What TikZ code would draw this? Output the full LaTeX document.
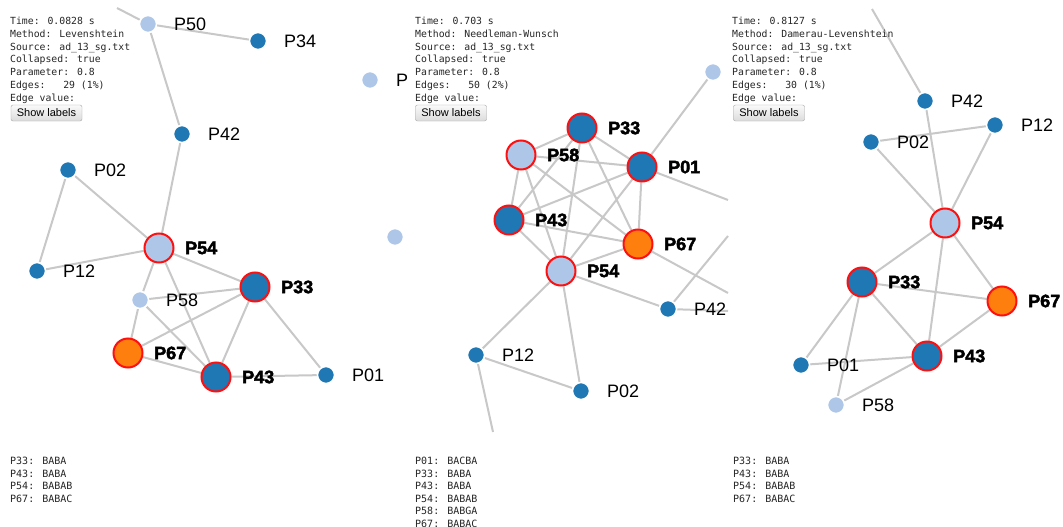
\documentclass[tikz,border=0pt]{standalone}
\usepackage{fontspec}
\usepackage{tikz}
\usetikzlibrary{positioning,backgrounds}
\setmainfont{Liberation Sans}
\newfontfamily\labelfont{Liberation Sans}[BoldFeatures={FakeBold=2.5}]
\newfontfamily\monofont{DejaVu Sans Mono}
\definecolor{dkblue}{HTML}{1F77B4}
\definecolor{ltblue}{HTML}{AEC7E8}
\definecolor{orng}{HTML}{FF7F0E}
\definecolor{linkgray}{HTML}{C8C8C8}
\definecolor{hilite}{HTML}{FF1010}

\begin{document}
\begin{tikzpicture}[x=1pt,y=-1pt,
  link/.style={linkgray, line width=2pt},
  sdot/.style={circle, draw=white, line width=1.5pt, minimum size=17pt, inner sep=0pt},
  bdot/.style={circle, draw=hilite, line width=2pt, minimum size=29pt, inner sep=0pt},
  plab/.style={font=\labelfont\fontsize{18}{20}\selectfont, inner sep=0pt, anchor=west},
  pbold/.style={plab, font=\labelfont\bfseries\fontsize{18}{20}\selectfont},
  info/.style={font=\monofont\fontsize{9.8}{12.77}\selectfont, align=left, anchor=north west, inner sep=0pt, text=black!85},
  btn/.style={draw=black!35, rounded corners=2pt, top color=black!2, bottom color=black!14,
    minimum width=71pt, minimum height=16pt, inner sep=0pt, font=\fontsize{11}{12}\selectfont}]
\useasboundingbox (0,0) rectangle (1063,527);
%
% Levenshtein
\node[info] (lInfo) at (10,17) {Time: 0.0828 s\\Method: Levenshtein\\Source: ad\_13\_sg.txt\\Collapsed: true\\Parameter: 0.8\\Edges:\ \ \ 29 (1\%)\\Edge value:};
\node[btn] (lBtn) at (46.5,113) {Show labels};
\node[sdot, fill=ltblue] (lP50) at (148,24) {};
\node[sdot, fill=dkblue] (lP34) at (258,41) {};
\node[sdot, fill=ltblue] (lPx) at (370,80) {};
\node[sdot, fill=dkblue] (lP42) at (182,134) {};
\node[sdot, fill=dkblue] (lP02) at (68,170) {};
\node[sdot, fill=dkblue] (lP12) at (37,271) {};
\node[bdot, fill=ltblue] (lP54) at (159,248) {};
\node[sdot, fill=ltblue] (lP58) at (140,300) {};
\node[bdot, fill=dkblue] (lP33) at (255,287) {};
\node[bdot, fill=orng] (lP67) at (128,353) {};
\node[bdot, fill=dkblue] (lP43) at (216,377) {};
\node[sdot, fill=dkblue] (lP01) at (326,375) {};
\coordinate (lTop) at (117,8);
\node[plab, right=26pt of lP50.center] (lP50t) {P50};
\node[plab, right=26pt of lP34.center] (lP34t) {P34};
\node[plab, right=26pt of lPx.center] (lPxt) {P};
\node[plab, right=26pt of lP42.center] (lP42t) {P42};
\node[plab, right=26pt of lP02.center] (lP02t) {P02};
\node[plab, right=26pt of lP12.center] (lP12t) {P12};
\node[pbold, right=26pt of lP54.center] (lP54t) {P54};
\node[plab, right=26pt of lP58.center] (lP58t) {P58};
\node[pbold, right=26pt of lP33.center] (lP33t) {P33};
\node[pbold, right=26pt of lP67.center] (lP67t) {P67};
\node[pbold, right=26pt of lP43.center] (lP43t) {P43};
\node[plab, right=26pt of lP01.center] (lP01t) {P01};
\node[info, font=\monofont\fontsize{10}{12.5}\selectfont] (lSeq) at (10,457) {P33: BABA\\P43: BABA\\P54: BABAB\\P67: BABAC};
%
% Needleman-Wunsch
\node[info] (mInfo) at (415,17) {Time: 0.703 s\\Method: Needleman-Wunsch\\Source: ad\_13\_sg.txt\\Collapsed: true\\Parameter: 0.8\\Edges:\ \ \ 50 (2\%)\\Edge value:};
\node[btn] (mBtn) at (451,113) {Show labels};
\node[bdot, fill=dkblue] (mP33) at (582,128) {};
\node[bdot, fill=ltblue] (mP58) at (521,155) {};
\node[bdot, fill=dkblue] (mP01) at (642,167) {};
\node[bdot, fill=dkblue] (mP43) at (509,220) {};
\node[bdot, fill=orng] (mP67) at (638,244) {};
\node[bdot, fill=ltblue] (mP54) at (561,271) {};
\node[sdot, fill=dkblue] (mP42) at (668,309) {};
\node[sdot, fill=dkblue] (mP12) at (476,355) {};
\node[sdot, fill=dkblue] (mP02) at (581,391) {};
\node[sdot, fill=ltblue] (mPa) at (713,72) {};
\node[sdot, fill=ltblue] (mPb) at (395,237) {};
\coordinate (mOutA) at (728,200);
\coordinate (mOutB) at (728,293);
\coordinate (mOutC) at (728,236);
\coordinate (mOutD) at (728,311);
\coordinate (mOutE) at (493,432);
\node[pbold, right=26pt of mP33.center] (mP33t) {P33};
\node[pbold, right=26pt of mP58.center] (mP58t) {P58};
\node[pbold, right=26pt of mP01.center] (mP01t) {P01};
\node[pbold, right=26pt of mP43.center] (mP43t) {P43};
\node[pbold, right=26pt of mP67.center] (mP67t) {P67};
\node[pbold, right=26pt of mP54.center] (mP54t) {P54};
\node[plab, right=26pt of mP42.center] (mP42t) {P42};
\node[plab, right=26pt of mP12.center] (mP12t) {P12};
\node[plab, right=26pt of mP02.center] (mP02t) {P02};
\node[info, font=\monofont\fontsize{10}{12.5}\selectfont] (mSeq) at (415,457) {P01: BACBA\\P33: BABA\\P43: BABA\\P54: BABAB\\P58: BABGA\\P67: BABAC};
%
% Damerau-Levenshtein
\node[info] (rInfo) at (732,17) {Time: 0.8127 s\\Method: Damerau-Levenshtein\\Source: ad\_13\_sg.txt\\Collapsed: true\\Parameter: 0.8\\Edges:\ \ \ 30 (1\%)\\Edge value:};
\node[btn] (rBtn) at (769,113) {Show labels};
\node[sdot, fill=dkblue] (rP42) at (925,101) {};
\node[sdot, fill=dkblue] (rP12) at (995,125) {};
\node[sdot, fill=dkblue] (rP02) at (871,142) {};
\node[bdot, fill=ltblue] (rP54) at (945,223) {};
\node[bdot, fill=dkblue] (rP33) at (862,282) {};
\node[bdot, fill=orng] (rP67) at (1002,301) {};
\node[bdot, fill=dkblue] (rP43) at (927,356) {};
\node[sdot, fill=dkblue] (rP01) at (801,365) {};
\node[sdot, fill=ltblue] (rP58) at (836,405) {};
\coordinate (rTop) at (872,9);
\node[plab, right=26pt of rP42.center] (rP42t) {P42};
\node[plab, right=26pt of rP12.center] (rP12t) {P12};
\node[plab, right=26pt of rP02.center] (rP02t) {P02};
\node[pbold, right=26pt of rP54.center] (rP54t) {P54};
\node[pbold, right=26pt of rP33.center] (rP33t) {P33};
\node[pbold, right=26pt of rP67.center] (rP67t) {P67};
\node[pbold, right=26pt of rP43.center] (rP43t) {P43};
\node[plab, right=26pt of rP01.center] (rP01t) {P01};
\node[plab, right=26pt of rP58.center] (rP58t) {P58};
\node[info, font=\monofont\fontsize{10}{12.5}\selectfont] (rSeq) at (733,457) {P33: BABA\\P43: BABA\\P54: BABAB\\P67: BABAC};
%
% edges go under the dots and labels
\begin{scope}[on background layer]
\fill[white] (0,0) rectangle (1063,527);
\draw[link] (lP50) -- (lTop) (lP50) -- (lP34) (lP50) -- (lP42) (lP42) -- (lP54)
  (lP02) -- (lP54) (lP02) -- (lP12) (lP12) -- (lP54) (lP54) -- (lP58) (lP54) -- (lP33)
  (lP54) -- (lP43) (lP58) -- (lP33) (lP58) -- (lP67) (lP58) -- (lP43) (lP33) -- (lP67)
  (lP33) -- (lP43) (lP33) -- (lP01) (lP67) -- (lP43) (lP43) -- (lP01);
\draw[link] (mP58) -- (mP33) (mP33) -- (mP01) (mP58) -- (mP01) (mP58) -- (mP43)
  (mP58) -- (mP67) (mP58) -- (mP54) (mP33) -- (mP43) (mP33) -- (mP67) (mP33) -- (mP54)
  (mP01) -- (mP43) (mP01) -- (mP67) (mP01) -- (mP54) (mP43) -- (mP67) (mP43) -- (mP54)
  (mP67) -- (mP54) (mP01) -- (mPa) (mP01) -- (mOutA) (mP67) -- (mOutB) (mP54) -- (mP42)
  (mP42) -- (mOutC) (mP42) -- (mOutD) (mP54) -- (mP12) (mP54) -- (mP02) (mP12) -- (mP02)
  (mP12) -- (mOutE);
\draw[link] (rP42) -- (rTop) (rP42) -- (rP54) (rP02) -- (rP12) (rP02) -- (rP54)
  (rP12) -- (rP54) (rP54) -- (rP33) (rP54) -- (rP43) (rP54) -- (rP67) (rP33) -- (rP67)
  (rP33) -- (rP43) (rP33) -- (rP01) (rP33) -- (rP58) (rP43) -- (rP67) (rP43) -- (rP01)
  (rP43) -- (rP58);
\end{scope}
\end{tikzpicture}
\end{document}
